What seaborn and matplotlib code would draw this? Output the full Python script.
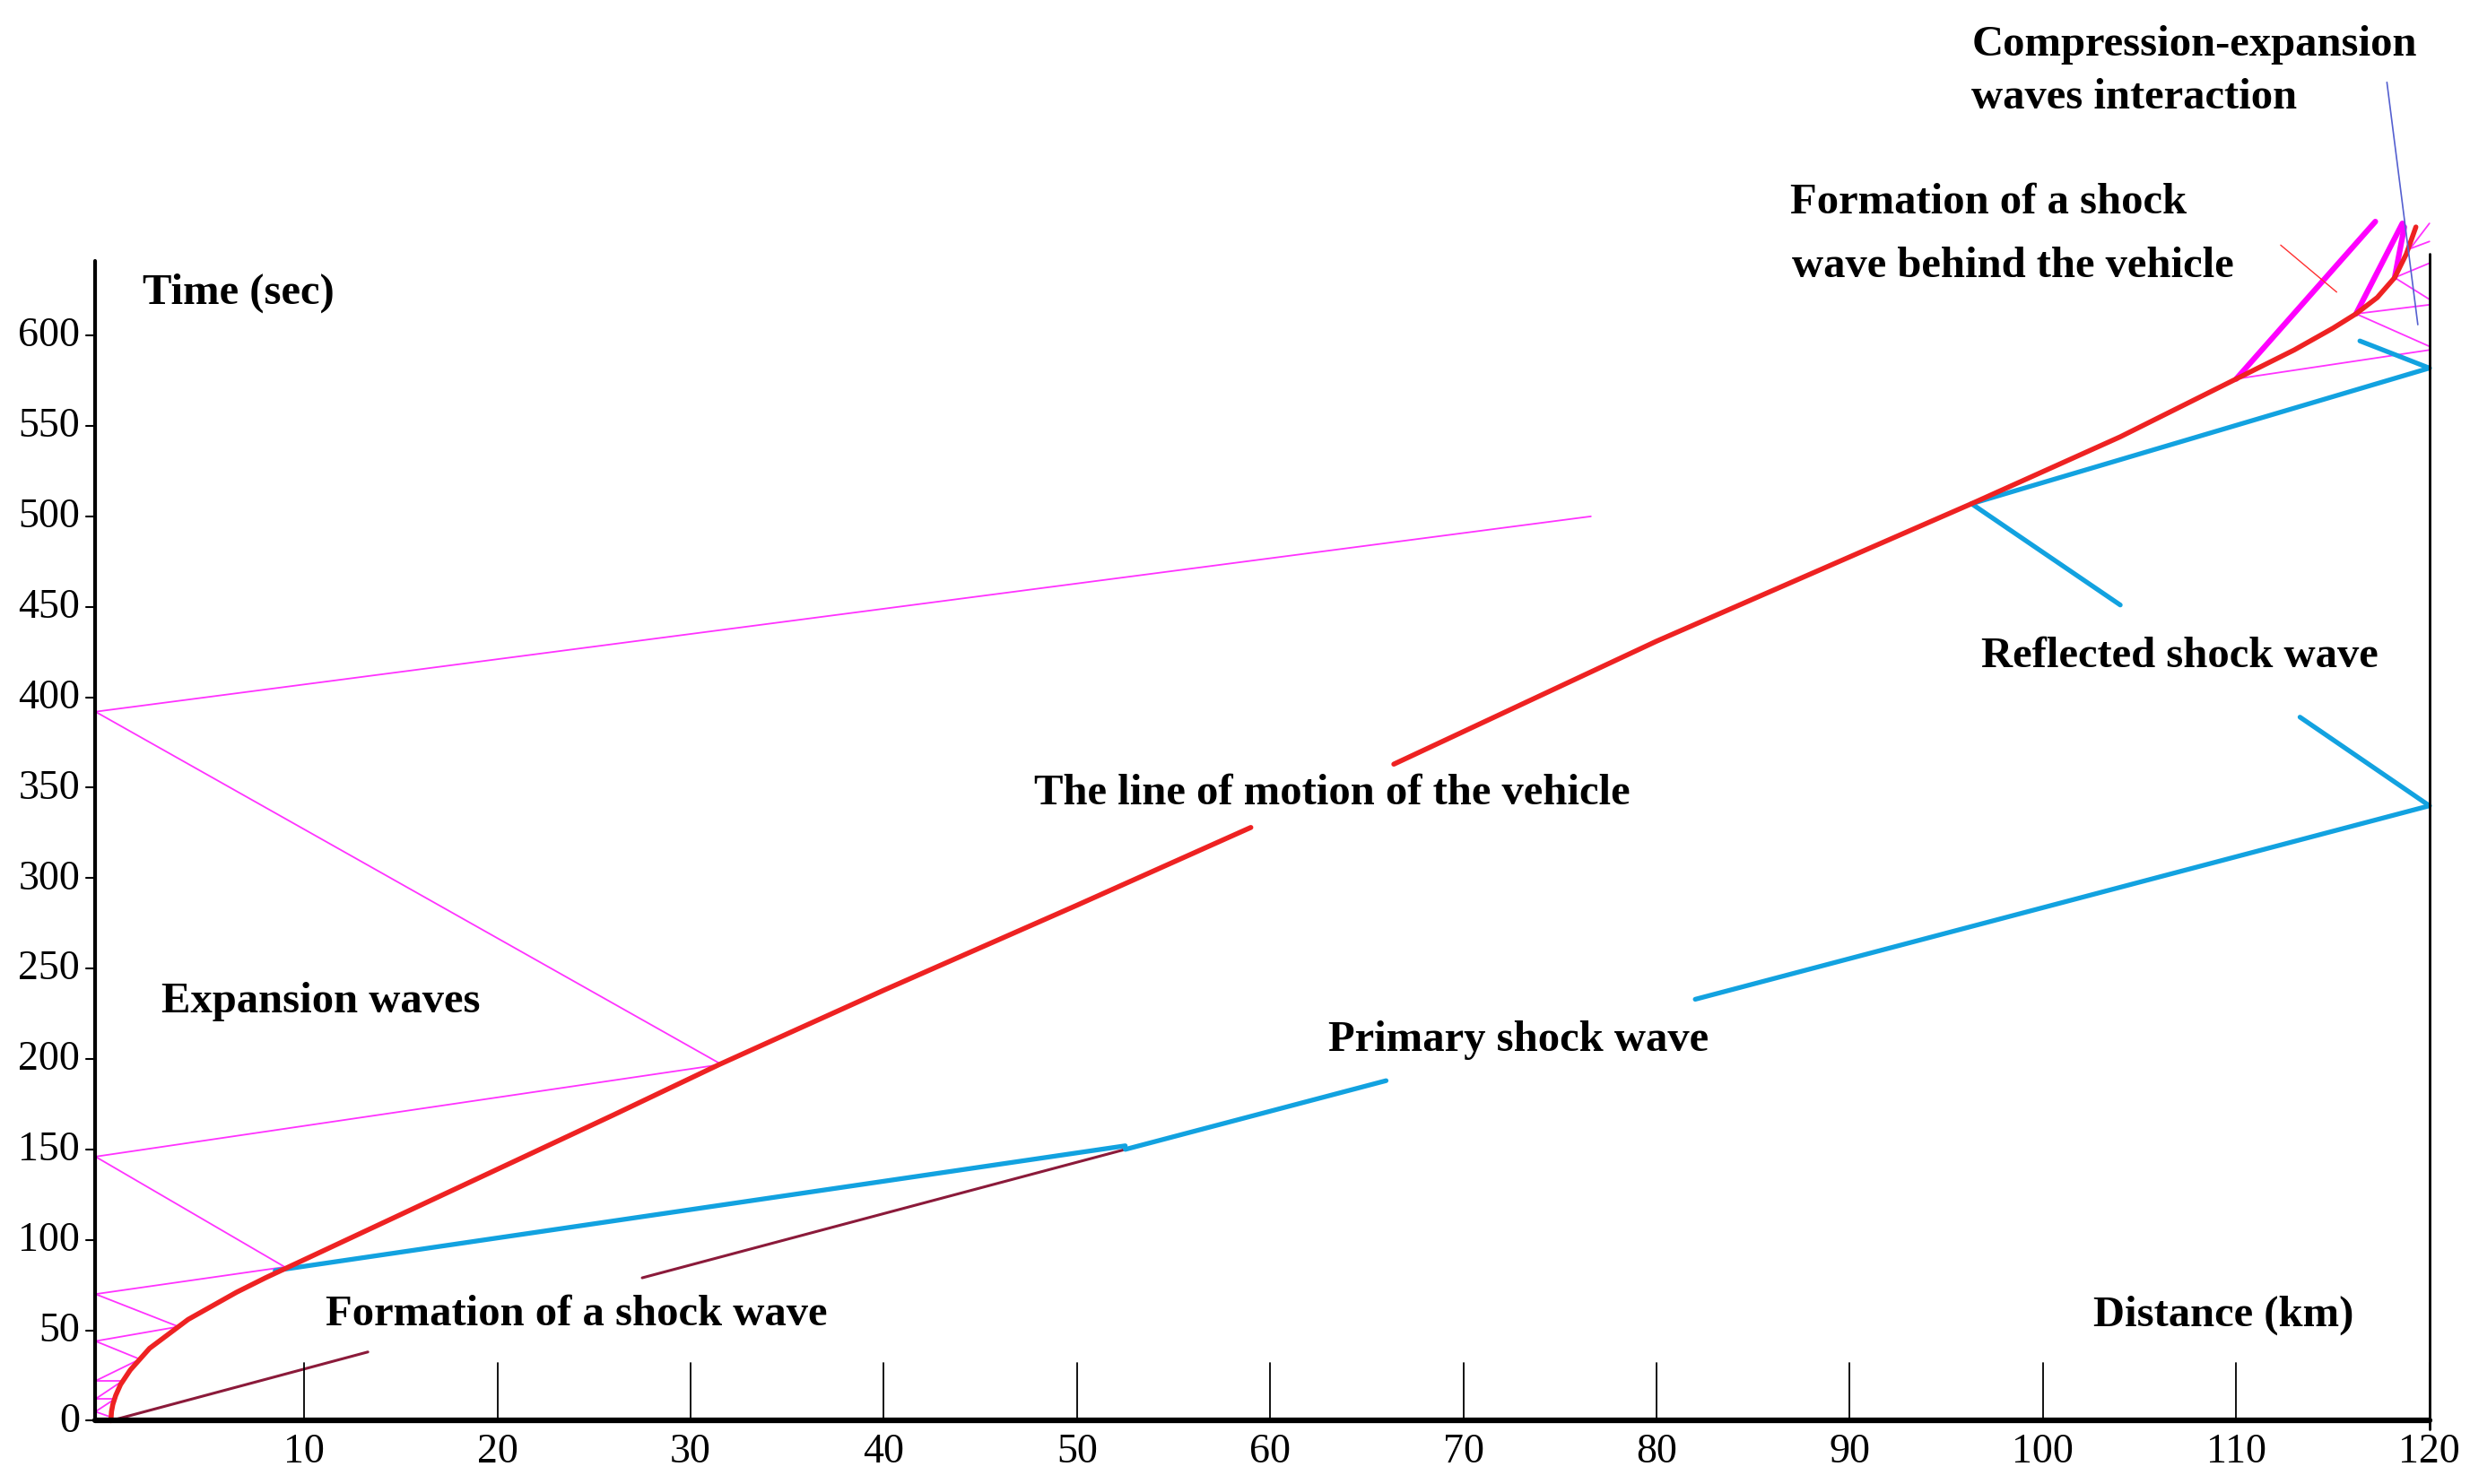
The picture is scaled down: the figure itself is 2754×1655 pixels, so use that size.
import numpy as np
import matplotlib.pyplot as plt
import seaborn as sns

sns.set_theme(style="white")
plt.rcParams['font.family'] = ['Liberation Serif', 'DejaVu Serif']

# vehicle trajectory (km, sec), split where the label covers it
veh_x1 = [0, 0.03, 0.1, 0.25, 0.5, 1.0, 1.5, 2.0, 3.0, 4.0, 5.0, 6.5, 8.0, 9.0, 12, 16, 20, 26, 31.5, 40, 50, 59]
veh_t1 = [0, 5, 9, 14, 20, 28, 34, 40, 48, 56, 62, 71, 79, 84, 99, 119, 139, 169, 197, 238, 285, 328]
veh_x2 = [66.4, 80, 96.3, 104, 110, 113, 115, 116.2, 117.3, 118.2, 118.8, 119.3]
veh_t2 = [363, 431, 507, 544, 576, 592, 604, 612, 621, 632, 645, 660]

# primary and reflected shock wave segments (blue)
blue_segs = [
    ([8.5, 52.5], [83, 152]),
    ([52.5, 66.0], [150, 188]),
    ([82.0, 120.0], [233, 340]),
    ([120.0, 113.3], [340, 389]),
    ([104.0, 96.3], [451, 507]),
    ([96.3, 120.0], [507, 582]),
    ([120.0, 116.4], [582, 597]),
]

# shock formation (dark red thin)
dark_segs = [([0, 13.3], [0, 38]), ([27.5, 52.5], [79, 150])]

# expansion waves (thin magenta)
wall = -0.8
mag_segs = [
    ([wall, 76.6], [392, 500]),
    ([wall, 31.6], [392, 197]),
    ([wall, 31.6], [146, 197]),
    ([wall, 9.0], [146, 85]),
    ([wall, 9.0], [70, 85]),
    ([wall, 3.5], [70, 52]),
    ([wall, 3.5], [44, 52]),
    ([wall, 1.5], [44, 34]),
    ([wall, 1.5], [22, 34]),
    ([wall, 0.6], [22, 22]),
    ([wall, 0.6], [12, 22]),
    ([wall, 0.2], [12, 12]),
    ([wall, 0.2], [5, 12]),
    ([wall, 0.0], [5, 2]),
    ([110.0, 120.0], [576, 592]),
    ([116.2, 120.0], [612, 594]),
    ([116.2, 120.0], [612, 617]),
    ([118.2, 120.0], [632, 620]),
    ([118.2, 120.0], [632, 640]),
    ([119.0, 120.0], [648, 652]),
    ([119.0, 120.0], [648, 662]),
]

# shock waves behind the vehicle (thick magenta)
thick_mag = [([110.0, 117.2], [576, 663]), ([116.2, 118.6], [612, 662]),
             ([118.2, 118.7], [632, 660])]

xticks = list(range(10, 130, 10))
yticks = list(range(0, 650, 50))

fig = plt.figure(figsize=(27.54, 16.56), dpi=100)
ax = fig.add_axes([0, 0, 1, 1])
ax.set_xlim(-5.74, 122.1)
ax.set_ylim(-35, 786)
ax.axis('off')

for xs, ts in mag_segs:
    sns.lineplot(x=xs, y=ts, ax=ax, color='#ff33ff', lw=1.3, sort=False, estimator=None)
for xs, ts in dark_segs:
    sns.lineplot(x=xs, y=ts, ax=ax, color='#8b1a3a', lw=2.2, sort=False, estimator=None)
for xs, ts in blue_segs:
    sns.lineplot(x=xs, y=ts, ax=ax, color='#12a2e0', lw=3.8, sort=False, estimator=None)
for xs, ts in thick_mag:
    sns.lineplot(x=xs, y=ts, ax=ax, color='#ff00ff', lw=4.5, sort=False, estimator=None)
sns.lineplot(x=veh_x1, y=veh_t1, ax=ax, color='#ee2222', lw=4, sort=False, estimator=None)
sns.lineplot(x=veh_x2, y=veh_t2, ax=ax, color='#ee2222', lw=4, sort=False, estimator=None)
ax.plot([117.8, 119.4], [740, 606], color='#5560d0', lw=1.2)
ax.plot([112.3, 115.2], [650, 624], color='#ff3030', lw=1.0)

# axes frame
ax.plot([wall, 120], [0, 0], color='black', lw=4.5)
ax.plot([wall, wall], [0, 641], color='black', lw=3)
ax.plot([120, 120], [-5, 645], color='black', lw=2)
for x in xticks:
    ax.plot([x, x], [0, 32], color='black', lw=1.3)
    ax.text(x, -17, str(x), ha='center', va='center', fontsize=33, color='black')
for t in yticks:
    ax.plot([wall - 0.5, wall], [t, t], color='black', lw=1.5)
    ax.text(-1.6, t, str(t), ha='right', va='center', fontsize=33, color='black')

bold = dict(fontsize=35, fontweight='bold', va='center', ha='left', color='black')
ax.text(1.64, 624, 'Time (sec)', **bold)
ax.text(2.6, 232, 'Expansion waves', **bold)
ax.text(11.1, 59, 'Formation of a shock wave', **bold)
ax.text(63.0, 211, 'Primary shock wave', **bold)
ax.text(47.8, 347, 'The line of motion of the vehicle', **bold)
ax.text(96.8, 423, 'Reflected shock wave', **bold)
ax.text(102.6, 59, 'Distance (km)', **bold)
ax.text(86.9, 674, 'Formation of a shock', **bold)
ax.text(87.0, 639, 'wave behind the vehicle', **bold)
ax.text(96.3, 761, 'Compression-expansion', **bold)
ax.text(96.3, 732, 'waves interaction', **bold)

fig.savefig('out.png', dpi=100)
